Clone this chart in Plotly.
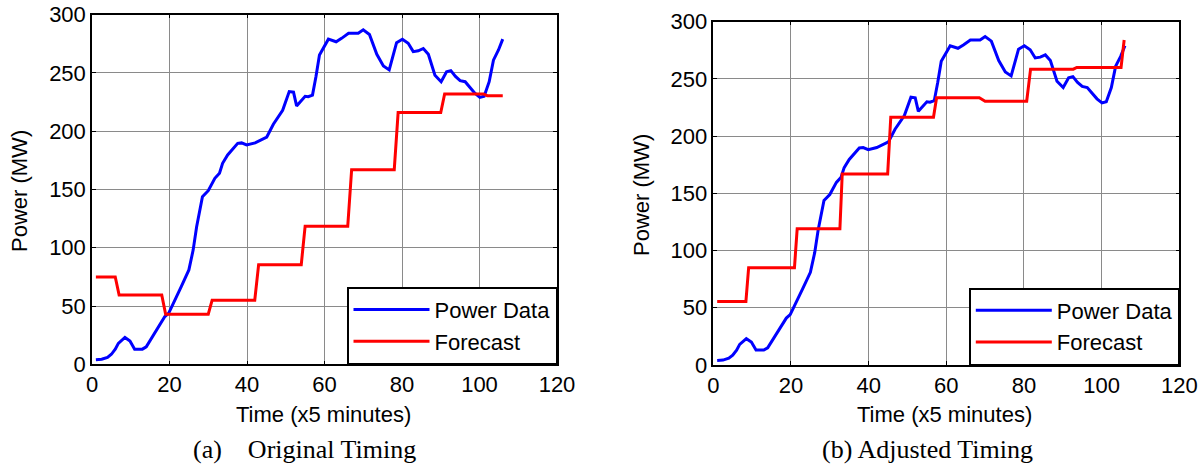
import plotly.graph_objects as go

# Measured wind power (MW) sampled every 5 minutes
time_power = [1, 2.5, 4, 5, 6, 6.8, 8.5, 9.8, 11, 13, 14, 16.7, 18.8, 19.8, 21, 23, 25, 26.1, 27,
              28.5, 30, 31.7, 32.9, 33.7, 35, 37.6, 38.6, 39.9, 42.1, 45.1, 46.8, 49.2, 50.9, 52,
              52.8, 55, 55.8, 56.9, 57.8, 58.7, 61, 63, 64.4, 66.2, 68.7, 70, 71.6, 73.5, 75.2,
              76.7, 78.6, 80.1, 81.6, 82.9, 84.2, 85.5, 86.8, 88.5, 90.1, 91.5, 92.6, 93.8, 95,
              96.3, 97.5, 98.8, 100.1, 101.2, 102.5, 103.6, 104.9, 106]
power_data = [4, 4.3, 6, 8.6, 13, 18, 23, 20, 13, 13, 15, 29, 41, 44, 52, 66.5, 81, 98, 118,
              143.8, 149, 159.6, 164, 172.5, 179.6, 189.6, 190, 188.2, 190, 195, 206, 218, 234, 233.5,
              221.7, 230, 229.6, 231, 247, 265.4, 279, 276.8, 279.7, 284, 284, 287, 283, 266, 256,
              252.6, 276, 279, 275.5, 268.3, 269, 271, 266, 248, 242.5, 251, 252, 247, 243.4,
              242.5, 237.7, 232.6, 229, 230, 242.5, 261, 269.7, 279]

# Hourly forecast, original timing
time_fc_orig = [1, 6, 7, 18, 19, 30, 31, 42, 43, 54, 55, 66, 67, 78, 79, 90, 91, 101, 102, 106]
forecast_orig = [75, 75, 59.5, 59.5, 43, 43, 55, 55, 85.5, 85.5, 118.5, 118.5, 167, 167,
                 216, 216, 232, 232, 230.5, 230.5]

# Hourly forecast, adjusted timing
time_fc_adj = [1, 8.4, 9.1, 20.9, 21.6, 32.6, 33.2, 44.9, 45.7, 56.7, 57.5, 68.5, 70, 80.7,
               81.7, 92.7, 93.6, 105, 105.8]
forecast_adj = [55.5, 55.5, 85, 85, 119, 119, 167, 167, 216.5, 216.5, 233.5, 233.5, 230.5,
                230.5, 258.5, 258.5, 260, 260, 284]

x_ticks = [0, 20, 40, 60, 80, 100, 120]
y_ticks = [0, 50, 100, 150, 200, 250, 300]

BLUE = "#0000ff"
RED = "#ff0000"
SANS = "Liberation Sans, Arial, sans-serif"
SERIF = "Liberation Serif, Times New Roman, serif"
W, H = 1203, 466
FS = 22

fig = go.Figure()

panels = [
    ("x", "y", "legend", time_fc_orig, forecast_orig),
    ("x2", "y2", "legend2", time_fc_adj, forecast_adj),
]
for xa, ya, lg, tx, fc in panels:
    fig.add_trace(go.Scatter(x=time_power, y=power_data, mode="lines", name="Power Data",
                             line=dict(color=BLUE, width=3), xaxis=xa, yaxis=ya, legend=lg))
    fig.add_trace(go.Scatter(x=tx, y=fc, mode="lines", name="Forecast",
                             line=dict(color=RED, width=3), xaxis=xa, yaxis=ya, legend=lg))

axis_common = dict(
    showline=True, linecolor="black", linewidth=1.5, mirror="allticks",
    ticks="inside", ticklen=4, tickwidth=1.2, tickcolor="black",
    showgrid=True, gridcolor="#8a8a8a", gridwidth=1, zeroline=False,
    tickfont=dict(family=SANS, size=FS, color="black"), automargin=False,
)

# pixel geometry of the two axes boxes
left_box = (92, 557, 14.7, 364.3)
right_box = (713.3, 1179.3, 21.7, 365)


def xdom(b):
    return [b[0] / W, b[1] / W]


def ydom(b):
    return [1 - b[3] / H, 1 - b[2] / H]


legend_common = dict(xanchor="right", yanchor="bottom", bgcolor="white",
                     bordercolor="black", borderwidth=1.5,
                     font=dict(family=SANS, size=FS), itemwidth=76, tracegroupgap=0)

fig.update_layout(
    width=W, height=H,
    margin=dict(l=0, r=0, t=0, b=0),
    paper_bgcolor="white", plot_bgcolor="white",
    font=dict(family=SANS, size=FS, color="black"),
    showlegend=True,
    xaxis=dict(domain=xdom(left_box), range=[0, 120], tickvals=x_ticks, anchor="y", **axis_common),
    yaxis=dict(domain=ydom(left_box), range=[0, 300], tickvals=y_ticks, anchor="x", **axis_common),
    xaxis2=dict(domain=xdom(right_box), range=[0, 120], tickvals=x_ticks, anchor="y2", **axis_common),
    yaxis2=dict(domain=ydom(right_box), range=[0, 300], tickvals=y_ticks, anchor="x2", **axis_common),
    legend=dict(x=left_box[1] / W, y=1 - left_box[3] / H, **legend_common),
    legend2=dict(x=right_box[1] / W, y=1 - right_box[3] / H, **legend_common),
)

annotations = [
    dict(text="Power (MW)", x=20 / W, y=1 - 191 / H, textangle=-90),
    dict(text="Power (MW)", x=641 / W, y=1 - 195 / H, textangle=-90),
    dict(text="Time (x5 minutes)", x=323 / W, y=1 - 414 / H),
    dict(text="Time (x5 minutes)", x=944 / W, y=1 - 414 / H),
]
for a in annotations:
    fig.add_annotation(xref="paper", yref="paper", showarrow=False,
                       xanchor="center", yanchor="middle",
                       font=dict(family=SANS, size=FS, color="black"), **a)

captions = [
    ("(a)\u00a0\u00a0\u00a0\u00a0Original Timing", 304),
    ("(b) Adjusted Timing", 927),
]
for text, cx in captions:
    fig.add_annotation(text=text, x=cx / W, y=1 - 449 / H, xref="paper", yref="paper",
                       showarrow=False, xanchor="center", yanchor="middle",
                       font=dict(family=SERIF, size=26, color="black"))

fig.write_html("out.html")
